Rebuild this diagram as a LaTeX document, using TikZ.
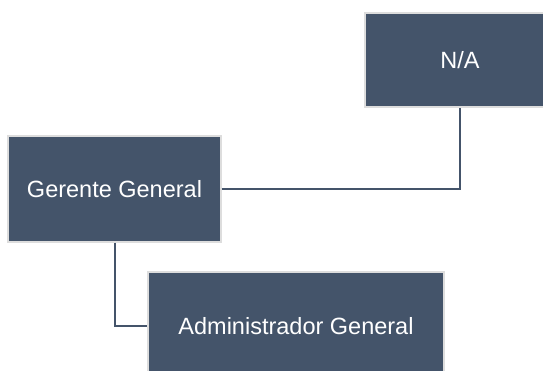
\documentclass[tikz,border=0pt]{standalone}
\usepackage{fontspec}
\setmainfont{Liberation Sans}
\definecolor{boxfill}{HTML}{44546A}
\definecolor{boxrim}{HTML}{DDDDDD}
\begin{document}
\begin{tikzpicture}[x=1pt,y=-1pt,
  orgbox/.style={rectangle, fill=boxfill, draw=boxrim, line width=1.2pt,
    text=white, font=\fontsize{23.5}{28}\selectfont, inner sep=0pt},
  link/.style={draw=boxfill, line width=2pt}]
  \useasboundingbox (0,0) rectangle (543,371);
  \clip (0,0) rectangle (543,371);
  % chart positions
  \node[orgbox, minimum width=190pt, minimum height=94pt] (na) at (460,60) {N/A};
  \node[orgbox, minimum width=213pt, minimum height=106pt] (gg) at (114.5,189) {Gerente General};
  \node[orgbox, minimum width=296pt, minimum height=108pt] (adm) at (296,326) {Administrador General};
  % reporting lines
  \draw[link] (gg.east) -| (na.south);
  \draw[link] (gg.south) |- (adm.west);
\end{tikzpicture}
\end{document}
